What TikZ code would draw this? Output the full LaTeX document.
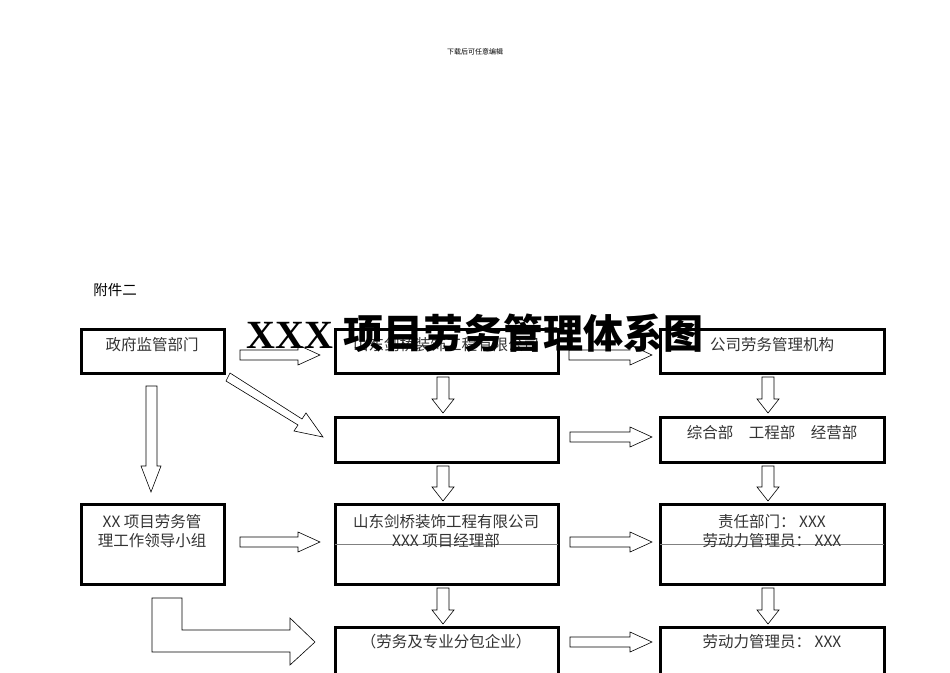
\documentclass[tikz,border=0pt]{standalone}
\usepackage{fontspec}
\setmainfont{Liberation Serif}
\newfontfamily\cjk{Noto Sans CJK SC}
\begin{document}
\begin{tikzpicture}[x=1pt,y=-1pt,
  box/.style={draw,line width=3pt},
  txt/.style={font=\fontsize{15.5}{19}\selectfont\cjk,text=black!80,align=center},
  blk/.style={draw,line width=0.6pt,fill=white}]
\useasboundingbox (0,0) rectangle (950,672);
\node[font=\fontsize{7}{8}\selectfont\cjk] (hdr) at (475,52) {下载后可任意编辑};
\node[font=\fontsize{14.5}{16}\selectfont\cjk] (att) at (115,290) {附件二};
% boxes
\draw[box] (81,329) rectangle (224,373);
\draw[box] (335,329) rectangle (558,373);
\draw[box] (660,329) rectangle (884,373);
\draw[box] (335,417) rectangle (558,462);
\draw[box] (660,417) rectangle (884,462);
\draw[box] (81,504) rectangle (224,584);
\draw[box] (335,504) rectangle (558,584);
\draw[box] (660,504) rectangle (884,584);
\draw[box] (335,627) rectangle (558,680);
\draw[box] (660,627) rectangle (884,680);
\draw[gray] (335,544) -- (558,544);
\draw[gray] (660,544) -- (884,544);
% texts
\node[txt] (t1) at (152,345) {政府监管部门};
\node[txt] (t2) at (446,345) {山东剑桥装饰工程有限公司};
\node[txt] (t3) at (772,345) {公司劳务管理机构};
\node[txt] (t5) at (772,433) {综合部\quad 工程部\quad 经营部};
\node[txt] (t6) at (152,531) {XX 项目劳务管\\理工作领导小组};
\node[txt] (t7) at (446,531) {山东剑桥装饰工程有限公司\\XXX 项目经理部};
\node[txt] (t8) at (772,531) {责任部门： XXX\\劳动力管理员： XXX};
\node[txt] (t9) at (446,642) {（劳务及专业分包企业）};
\node[txt] (t10) at (772,642) {劳动力管理员： XXX};
% horizontal block arrows
\foreach \xa/\xb/\yy in {240/320/355, 569/652/355, 570/652/437, 240/320/542, 570/652/542, 570/652/642}{
  \draw[blk] (\xa,\yy-5) -- (\xb-22,\yy-5) -- (\xb-22,\yy-10) -- (\xb,\yy) -- (\xb-22,\yy+10) -- (\xb-22,\yy+5) -- (\xa,\yy+5) -- cycle;}
% vertical block arrows
\foreach \xx/\ya/\yb in {443/377/413, 768/377/413, 443/466/501, 768/466/501, 443/588/624, 768/588/624}{
  \draw[blk] (\xx-6,\ya) -- (\xx+6,\ya) -- (\xx+6,\yb-14) -- (\xx+11,\yb-14) -- (\xx,\yb) -- (\xx-11,\yb-14) -- (\xx-6,\yb-14) -- cycle;}
% long down arrow
\draw[blk] (146,386) -- (157,386) -- (157,466) -- (161,466) -- (151,492) -- (141,466) -- (146,466) -- cycle;
% diagonal arrow
\draw[blk] (230,373) -- (226,381) -- (298,425) -- (294,431) -- (323,437) -- (306,413) -- (302,419) -- cycle;
% L arrow
\draw[blk] (152,598) -- (182,598) -- (182,630) -- (290,630) -- (290,618) -- (315,642) -- (290,665) -- (290,652) -- (152,652) -- cycle;
% title
\node[font=\fontsize{40}{44}\selectfont\bfseries] (title) at (475,333) {XXX {\cjk\bfseries 项目劳务管理体系图}};
\end{tikzpicture}
\end{document}
